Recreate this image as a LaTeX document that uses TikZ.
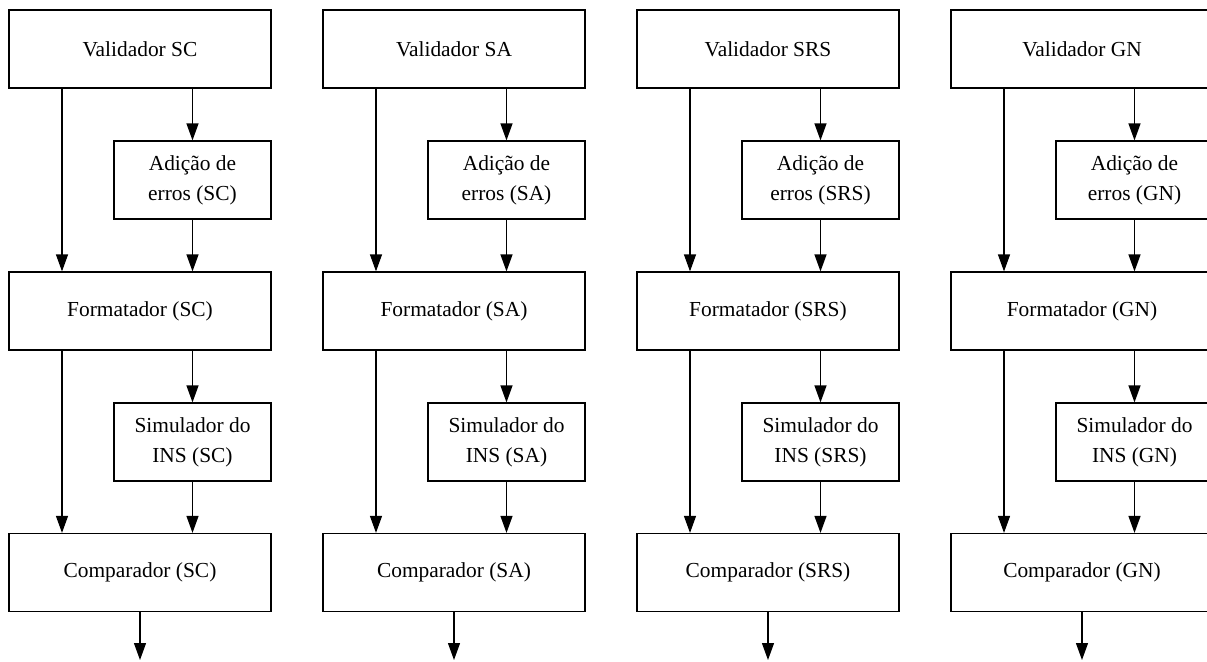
\documentclass[tikz,border=0pt]{standalone}
\usepackage{fontspec}
\setmainfont{Liberation Serif}
\usetikzlibrary{arrows.meta}
\begin{document}
\begin{tikzpicture}[x=0.5pt,y=-0.5pt,
  box/.style={draw, line width=0.6pt, inner sep=0pt, align=center,
    minimum height=39pt, font=\fontsize{10.7}{15}\selectfont},
  bigbox/.style={box, minimum width=131pt},
  smallbox/.style={box, minimum width=78.5pt},
  flow/.style={line width=0.6pt, -{Triangle[length=8.5pt,width=6pt]}}]
\useasboundingbox (0,0) rectangle (1207,661);
\clip (0,0) rectangle (1207,661);
\foreach \i/\tag [count=\k from 0] in {1/SC,2/SA,3/SRS,4/GN} {
  \pgfmathsetmacro\xo{9+314*\k}
  % boxes of one processing chain
  \node[bigbox]   (v\i) at (\xo+131,   49)  {Validador \tag};
  \node[smallbox] (a\i) at (\xo+183.5, 180) {Adição de\\erros (\tag)};
  \node[bigbox]   (f\i) at (\xo+131,   311) {Formatador (\tag)};
  \node[smallbox] (s\i) at (\xo+183.5, 442) {Simulador do\\INS (\tag)};
  \node[bigbox]   (c\i) at (\xo+131,   572.5) {Comparador (\tag)};
  % bypass line and chain output
  \coordinate (l\i) at (\xo+53, 0);
  \coordinate (o\i) at (\xo+131, 660);
  % connectors
  \draw[flow] (v\i.south -| a\i.north) -- (a\i.north);
  \draw[flow] (a\i.south) -- (a\i.south |- f\i.north);
  \draw[flow] (v\i.south -| l\i) -- (f\i.north -| l\i);
  \draw[flow] (f\i.south -| s\i.north) -- (s\i.north);
  \draw[flow] (s\i.south) -- (s\i.south |- c\i.north);
  \draw[flow] (f\i.south -| l\i) -- (c\i.north -| l\i);
  \draw[flow] (c\i.south) -- (o\i);
}
\end{tikzpicture}
\end{document}
